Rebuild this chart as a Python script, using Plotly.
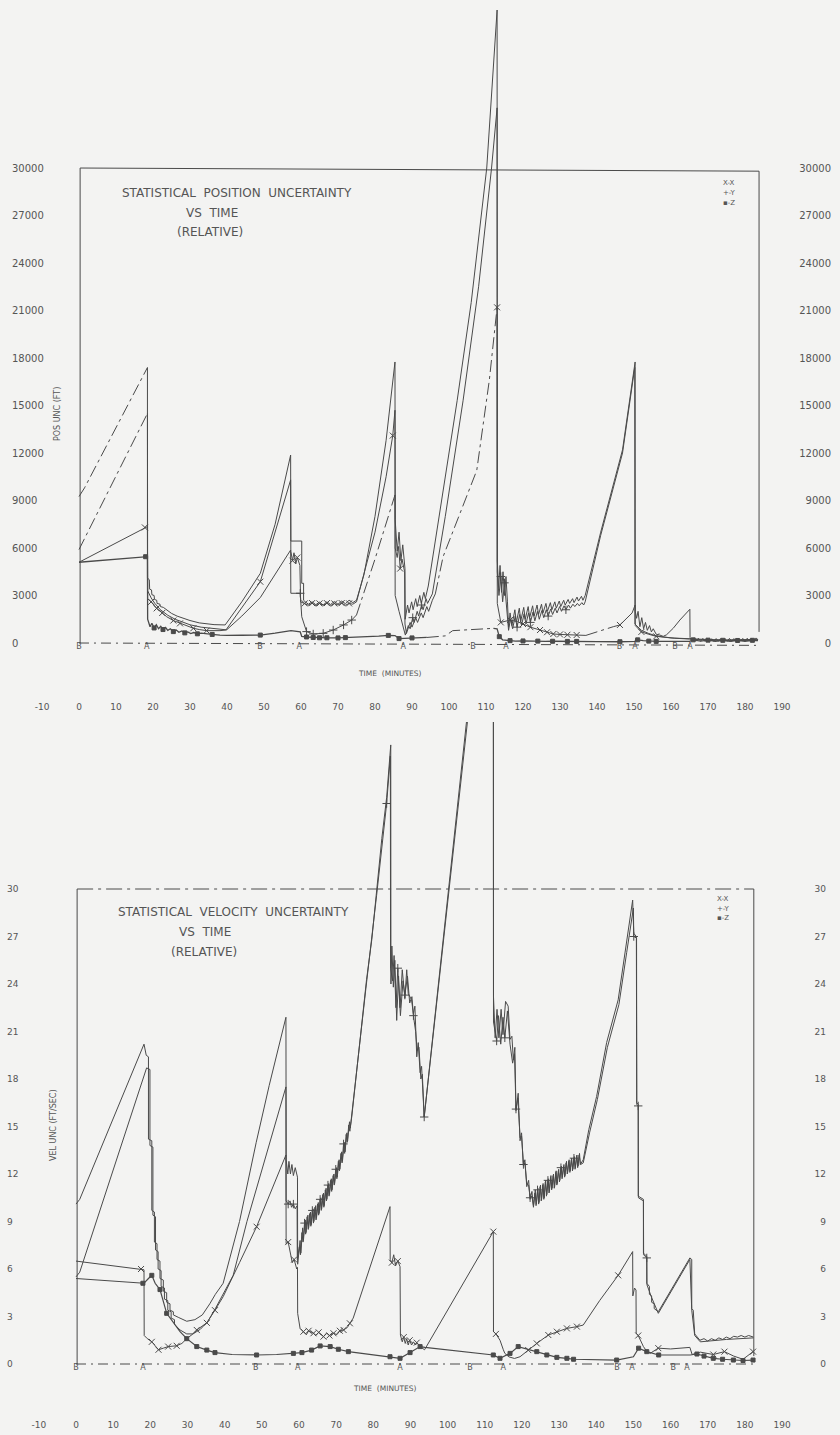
import plotly.graph_objects as go

# ---------------- data ----------------
MINUTE_TICKS = list(range(-10, 200, 10))
POS_TICKS = list(range(0, 30001, 3000))
VEL_TICKS = list(range(0, 31, 3))

POS_EVENT_T = [0, 18.3, 48.9, 59.5, 87.6, 106.5, 115.4, 146.1, 150.3, 161.1, 165.1]
POS_EVENT_LABEL = ["B", "A", "B", "A", "A", "B", "A", "B", "A", "B", "A"]
VEL_EVENT_T = [0, 18.0, 48.4, 59.7, 87.2, 106.0, 115.0, 145.6, 149.6, 160.7, 164.4]
VEL_EVENT_LABEL = ["B", "A", "B", "A", "A", "B", "A", "B", "A", "B", "A"]

# position uncertainty (ft) -- (minute, value)
POS_P_DASH = [(0.0, 9250), (0.6, 9450), (1.5, 9800), (18.5, 17400)]
POS_P = [
    (18.5, 17400), (18.5, 4100), (19.0, 4000), (19.1, 3400), (19.6, 3350), (19.7, 3050), (20.3, 3000),
    (20.4, 2750), (21.0, 2700), (21.1, 2500), (21.9, 2450), (22.0, 2300), (22.8, 2250), (24.0, 2050),
    (25.0, 1870), (26.5, 1700), (28.2, 1560), (30.0, 1420), (32.5, 1270), (34.5, 1200), (36.5, 1160),
    (39.5, 1140), (44.0, 2600), (49.0, 4400), (53.0, 7500), (57.2, 11870),
    (57.25, 6440), (60.2, 6440), (60.2, 3770), (60.7, 3770), (60.7, 2700), (61.1, 2610), (62, 2450),
    (63, 2600), (64, 2420), (65, 2580), (66, 2400), (67, 2600), (68, 2430), (69, 2620), (70, 2450),
    (71, 2650), (72, 2480), (73, 2700), (74, 2550), (75, 2700), (77, 4300), (80, 8000), (83, 12800),
    (85.4, 17750),
    (85.45, 7800), (86.0, 5800), (86.5, 7000), (87.0, 5200), (87.5, 6200), (88.1, 4700), (88.15, 1500),
    (88.8, 2400), (89.2, 1900), (89.9, 2600), (90.3, 2100), (91.0, 2800), (91.4, 2300), (92.1, 3000),
    (92.5, 2500), (93.2, 3200), (93.6, 2800), (94.4, 3600), (98.0, 9000), (102.2, 15300), (106.0, 21500),
    (110.2, 30000), (113.0, 39980),
    (113.05, 5200), (113.4, 3500), (113.8, 4900), (114.2, 3200), (114.6, 4500), (115.0, 3000),
    (115.4, 4200), (115.8, 2600), (116.1, 1000),
    (116.5, 1900), (117.0, 1100), (117.8, 2100), (118.2, 1300), (119.0, 2200), (119.4, 1400), (120.2, 2250),
    (120.6, 1500), (121.4, 2300), (121.8, 1600), (122.6, 2350), (123.0, 1700), (123.8, 2400), (124.2, 1800),
    (125.0, 2450), (125.4, 1900), (126.2, 2500), (126.6, 2000), (127.4, 2550), (127.8, 2100), (128.6, 2600),
    (129.0, 2200), (129.8, 2650), (130.2, 2300), (131.0, 2700), (131.4, 2400), (132.2, 2750), (132.6, 2500),
    (133.4, 2800), (133.8, 2550), (134.6, 2900), (135.0, 2650), (135.8, 2950), (136.2, 2700), (136.8, 3000),
    (141.0, 7000), (146.9, 12200), (150.3, 17750),
    (150.35, 2000), (150.7, 1560), (151.1, 2000), (151.6, 1030), (152.1, 1600), (152.6, 900), (153.1, 1300),
    (153.6, 800), (154.2, 1100), (154.7, 700), (155.2, 900), (156.0, 550), (157.0, 500), (157.9, 420),
    (158.8, 520), (160.6, 930), (162.4, 1450), (164.2, 1870), (165.1, 2130),
    (165.15, 350), (165.6, 150), (166.2, 320), (166.8, 120), (167.4, 300), (168.0, 110), (168.6, 290),
    (169.2, 100), (169.8, 280), (170.4, 110), (171.0, 270), (171.6, 100), (172.2, 280), (172.8, 110),
    (173.4, 270), (174.0, 100), (174.6, 280), (175.2, 110), (175.8, 290), (176.4, 100), (177.0, 280),
    (177.6, 110), (178.2, 300), (178.8, 120), (179.4, 290), (180.0, 110), (180.6, 300), (181.2, 120),
    (181.8, 310), (182.4, 130), (183.0, 320), (183.5, 200),
]

POS_Q_DASH = [(0.0, 5900), (18.5, 14500)]
POS_Q = [
    (18.5, 14500), (18.55, 3300), (19.5, 2850), (20.5, 2500), (22.0, 2100), (24.0, 1750), (26.0, 1500),
    (28.0, 1300), (30.0, 1150), (33.0, 1000), (36.0, 930), (39.9, 830), (44.0, 1700), (49.0, 2870),
    (57.2, 5870), (57.25, 3140), (59.8, 3140), (60.2, 1660), (61.5, 720), (63.3, 570), (66.0, 610),
    (68.7, 820), (71.5, 1140), (73.7, 1450), (75.0, 1770),
]
POS_Q_DASH2 = [(75.0, 1770), (80.0, 5300), (85.4, 9350)]
POS_Q2 = [
    (85.4, 9350), (85.45, 3000), (86.5, 2000), (87.5, 1000), (88.2, 500), (89.0, 1100), (89.5, 900),
    (90.2, 1600), (90.6, 1300), (91.4, 2000), (91.8, 1700), (92.6, 2400), (93.0, 2100), (93.8, 2800),
    (94.2, 2500), (95.5, 3100), (99.0, 8000), (103.8, 15300), (108.0, 22500), (111.5, 30000), (113.0, 33800),
    (113.05, 4500), (113.5, 3000), (114.0, 4200), (114.5, 2600), (115.0, 3800), (115.5, 2300), (116.1, 800),
    (116.6, 1500), (117.2, 900), (117.9, 1700), (118.4, 1000), (119.1, 1800), (119.6, 1100), (120.3, 1850),
    (120.8, 1200), (121.5, 1900), (122.0, 1300), (122.7, 1950), (123.2, 1400), (123.9, 2000), (124.4, 1500),
    (125.1, 2050), (125.6, 1600), (126.3, 2100), (126.8, 1700), (127.5, 2150), (128.0, 1800), (128.7, 2200),
    (129.2, 1900), (129.9, 2300), (130.4, 2000), (131.1, 2350), (131.6, 2100), (132.3, 2400), (132.8, 2200),
    (133.5, 2450), (134.0, 2300), (134.7, 2500), (135.2, 2350), (135.9, 2550), (136.4, 2400), (136.8, 2600),
    (141.0, 6800), (146.9, 12000), (150.2, 17400), (150.25, 1200), (152.0, 800), (154.0, 600), (156.0, 450),
    (158.0, 380), (161.0, 300), (165.0, 250), (170.0, 180), (176.0, 150), (183.5, 170),
]

POS_X = [
    (0.0, 5100), (17.8, 7300), (18.5, 7350), (18.55, 2800), (19.5, 2600), (21.0, 2190), (22.5, 1900),
    (23.7, 1660), (25.5, 1420), (27.3, 1240), (29.0, 1080), (30.9, 930), (32.5, 850), (34.5, 780),
    (38.1, 780), (39.7, 820), (49.0, 3870), (57.2, 10300), (57.25, 5800), (57.7, 5200), (58.1, 5700),
    (58.6, 5000), (59.0, 5400), (59.7, 4900), (59.9, 2600), (61.0, 2500), (62, 2380), (63, 2520),
    (64, 2350), (65, 2500), (66, 2380), (67, 2520), (68, 2350), (69, 2500), (70, 2400), (71, 2520),
    (72, 2380), (73, 2500), (74, 2450), (75, 2600), (80, 7000), (83, 10500), (84.8, 13100), (85.4, 14700),
    (85.45, 6000), (86.0, 5400), (86.4, 6100), (86.8, 4700), (87.3, 5300), (88.0, 4500), (88.1, 1200),
    (88.5, 600), (89.5, 1300), (90.0, 1000), (91.0, 1600), (91.5, 1300), (92.5, 1900), (93.0, 1600),
    (94.0, 2300), (94.5, 2000), (95.5, 2700), (96.3, 3100),
]
POS_X_DASH = [(96.3, 3100), (98.4, 5450), (107.5, 10900), (110.9, 16600), (113.0, 21200)]
POS_X2 = [
    (113.0, 21200), (113.05, 2500), (114.0, 1300), (116.5, 1450), (118.5, 1350), (120.0, 1200),
    (122.0, 1000), (124.6, 820), (126.5, 680), (128.2, 570), (130.0, 540), (132.0, 520), (134.5, 505),
    (137.0, 480),
]
POS_X_DASH2 = [(137.0, 480), (144.4, 1030)]
POS_X3 = [
    (144.4, 1030), (146.2, 1140), (149.5, 1900), (150.3, 2400), (150.35, 1100), (152.0, 700), (154.0, 550),
    (156.0, 420), (160.0, 320), (165.0, 260), (170.0, 220), (175.0, 200), (183.5, 230),
]

POS_Z = [
    (0.0, 5100), (18.0, 5450), (18.5, 5450), (18.55, 1500), (19.2, 1030), (19.7, 1250), (20.3, 950),
    (20.9, 1150), (21.5, 900), (22.1, 1050), (22.7, 850), (23.4, 980), (24.0, 800), (24.7, 900),
    (25.5, 720), (26.3, 820), (27.0, 680), (27.8, 760), (28.6, 640), (29.4, 700), (30.2, 600), (31.0, 660),
    (32.0, 580), (33.0, 620), (34.5, 560), (36.0, 540), (38.1, 500), (40.0, 480), (44.0, 490), (49.0, 500),
    (53.0, 620), (57.3, 780), (59.8, 700), (60.2, 420), (61.5, 380), (63.3, 350), (65.0, 330), (67.0, 330),
    (70.0, 320), (72.0, 340), (75.0, 330), (78.0, 380), (81.0, 430), (83.6, 480), (85.4, 470), (86.5, 280),
    (88.0, 300), (90.0, 320), (92.0, 350), (94.0, 350),
]
POS_Z_DASH = [(94.0, 350), (99.0, 450), (101.0, 780), (108.0, 850), (112.0, 926)]
POS_Z2 = [
    (112.0, 926), (113.0, 900), (113.6, 400), (114.5, 200), (116.5, 150), (118.0, 120), (120.0, 130),
    (122.0, 110), (124.0, 120), (126.0, 100), (128.0, 110), (130.0, 100), (132.0, 100), (134.5, 100),
    (140.0, 90), (146.2, 80), (150.3, 100), (150.5, 250), (151.0, 200), (152.5, 150), (154.0, 120),
    (156.0, 100), (165.0, 100), (166.0, 200), (168.0, 120), (170.0, 180), (172.0, 110), (174.0, 170),
    (176.0, 110), (178.0, 160), (180.0, 110), (182.0, 170), (183.5, 150),
]

POS_X_MARKS = [
    (17.8, 7300), (19.5, 2600), (21.0, 2190), (22.5, 1900), (25.5, 1420), (27.3, 1240), (30.9, 930),
    (34.5, 780), (49.0, 3870), (57.7, 5200), (59.0, 5400), (61.0, 2500), (63, 2520), (65, 2500),
    (67, 2520), (69, 2500), (71, 2520), (73, 2500), (84.8, 13100), (86.8, 4700), (113.0, 21200),
    (114.0, 1300), (116.5, 1450), (120.0, 1200), (122.0, 1000), (124.6, 820), (126.5, 680), (128.2, 570),
    (130.0, 540), (132.0, 520), (134.5, 505), (146.2, 1140), (152.0, 700), (156.0, 420),
]
POS_Q_MARKS = [
    (59.8, 3140), (61.5, 720), (63.3, 570), (66.0, 610), (68.7, 820), (71.5, 1140), (73.7, 1450),
    (90.2, 1600), (92.6, 2400), (114.0, 4200), (115.0, 3800), (118.4, 1000), (122.0, 1300),
    (126.8, 1700), (131.6, 2100),
]
POS_Z_MARKS = [
    (18.0, 5450), (20.3, 950), (22.7, 850), (25.5, 720), (28.6, 640), (32.0, 580), (36.0, 540), (49.0, 500),
    (61.5, 380), (63.3, 350), (65.0, 330), (67.0, 330), (70.0, 320), (72.0, 340), (83.6, 480), (86.5, 280),
    (90.0, 320), (113.6, 400), (116.5, 150), (120.0, 130), (124.0, 120), (128.0, 110), (132.0, 100),
    (134.5, 100), (146.2, 80), (151.0, 200), (154.0, 120), (156.0, 100), (166.0, 200), (170.0, 180),
    (174.0, 170), (178.0, 160), (182.0, 170),
]

# velocity uncertainty (ft/sec) -- (minute, value)
VEL_P = [
    (0.0, 10.1), (1.0, 10.4), (18.3, 20.2), (18.9, 19.5), (19.5, 19.4), (19.5, 14.2), (20.4, 14.1),
    (20.4, 9.7), (21.1, 9.6), (21.1, 7.7), (21.8, 7.6), (21.8, 6.6), (22.6, 6.5), (22.6, 5.4), (23.5, 5.3),
    (23.5, 4.6), (24.4, 4.5), (24.4, 3.9), (25.3, 3.8), (25.3, 3.4), (26.2, 3.3), (26.2, 3.1), (27.5, 2.95),
    (29.8, 2.7), (32.0, 2.8), (34.0, 3.1), (36.0, 3.8), (37.5, 4.4), (39.6, 5.1), (44.0, 9.0), (48.5, 14.0),
    (52.0, 17.6), (56.5, 21.9),
    (56.55, 12.9), (57.0, 12.0), (57.3, 12.8), (57.7, 12.0), (58.1, 12.6), (58.5, 11.9), (59.0, 12.4),
    (59.6, 11.8), (59.65, 6.3), (60.3, 7.8), (60.5, 7.0), (61.0, 8.6), (61.2, 7.8), (61.7, 9.1), (61.9, 8.3),
    (62.4, 9.4), (62.6, 8.6), (63.1, 9.6), (63.3, 8.8), (63.8, 9.8), (64.0, 9.0), (64.5, 10.0), (64.7, 9.2),
    (65.2, 10.2), (65.4, 9.5), (65.9, 10.5), (66.1, 9.8), (66.6, 10.8), (66.8, 10.0), (67.3, 11.1),
    (67.5, 10.4), (68.0, 11.4), (68.2, 10.7), (68.7, 11.7), (68.9, 11.0), (69.4, 12.0), (69.6, 11.4),
    (70.1, 12.4), (70.3, 11.8), (70.8, 12.9), (71.0, 12.3), (71.5, 13.4), (71.7, 12.8), (72.2, 14.0),
    (72.4, 13.4), (72.9, 14.6), (73.1, 14.1), (73.6, 15.3), (73.8, 14.9), (74.2, 15.6), (75.2, 17.8),
    (76.4, 20.5), (78.2, 24.3), (79.6, 26.8), (80.9, 30.1), (82.3, 33.2), (83.6, 35.8), (84.7, 39.1),
    (84.75, 24.0), (85.0, 26.4), (85.4, 23.8), (85.8, 25.5), (86.3, 21.7), (86.8, 24.5), (87.2, 22.5),
    (87.8, 24.9), (88.5, 23.1), (89.0, 24.9), (89.4, 23.4), (90.3, 23.0), (90.8, 22.1), (91.2, 22.6),
    (91.7, 19.4), (92.1, 20.3), (92.6, 18.4), (93.0, 18.8), (93.7, 15.6), (98.8, 26.8), (105.1, 40.6),
    (112.3, 56.0),
    (112.35, 23.2), (112.8, 20.6), (113.3, 22.4), (113.8, 20.6), (114.4, 22.4), (114.9, 20.8), (115.6, 22.9),
    (116.3, 22.6), (116.8, 20.5), (117.3, 20.7), (117.7, 19.2), (118.1, 20.0), (118.4, 16.0), (119.0, 17.1),
    (119.5, 14.1), (119.9, 14.6), (120.4, 12.5), (120.8, 12.9), (121.3, 11.2), (121.8, 11.6), (122.2, 10.4),
    (122.7, 10.9), (123.1, 9.9), (123.6, 11.0), (123.8, 10.0), (124.3, 11.1), (124.5, 10.1), (125.0, 11.3),
    (125.2, 10.3), (125.7, 11.4), (125.9, 10.4), (126.4, 11.6), (126.6, 10.6), (127.1, 11.7), (127.3, 10.8),
    (127.8, 11.9), (128.0, 11.0), (128.5, 12.0), (128.7, 11.1), (129.2, 12.2), (129.4, 11.3), (129.9, 12.3),
    (130.1, 11.5), (130.6, 12.5), (130.8, 11.7), (131.3, 12.6), (131.5, 11.8), (132.0, 12.8), (132.2, 12.0),
    (132.7, 12.9), (132.9, 12.1), (133.4, 13.0), (133.6, 12.2), (134.1, 13.1), (134.3, 12.3), (134.8, 13.2),
    (135.0, 12.4), (135.5, 13.3), (135.7, 12.6), (136.5, 12.9), (138.0, 14.8), (140.1, 16.9), (142.8, 20.3),
    (145.9, 23.0), (148.0, 26.3), (149.8, 29.3),
    (150.1, 27.2), (150.8, 27.0), (150.9, 16.5), (151.3, 16.4), (151.3, 10.6), (152.7, 10.4), (152.7, 7.0),
    (153.6, 6.8), (153.6, 5.1), (154.3, 4.9), (154.3, 4.4), (154.9, 4.3), (154.9, 3.9), (155.6, 3.8),
    (155.6, 3.5), (156.7, 3.3), (165.2, 6.7), (165.7, 6.6), (165.7, 3.5), (166.1, 3.4), (166.5, 1.9),
    (167.9, 1.5), (169.0, 1.6), (170.0, 1.45), (171.0, 1.6), (172.0, 1.5), (173.0, 1.65), (174.0, 1.55),
    (175.0, 1.7), (176.0, 1.6), (177.0, 1.75), (178.0, 1.7), (179.0, 1.8), (180.0, 1.7), (181.0, 1.8),
    (182.3, 1.7),
]

VEL_Q = [
    (0.0, 5.5), (1.0, 5.8), (19.0, 18.7), (19.9, 18.6), (19.9, 13.8), (20.7, 13.7), (20.7, 9.4),
    (21.4, 9.3), (21.4, 7.2), (22.1, 7.1), (22.1, 6.0), (22.9, 5.9), (22.9, 4.9), (23.8, 4.8), (23.8, 4.1),
    (24.7, 4.0), (24.7, 3.4), (25.6, 3.3), (25.6, 2.9), (26.5, 2.8), (26.5, 2.5), (28.0, 2.15), (29.8, 1.9),
    (31.5, 1.9), (33.5, 2.2), (35.5, 2.7), (37.5, 3.5), (40.0, 4.6), (42.3, 5.6), (46.0, 9.0), (50.0, 12.3),
    (56.5, 17.5),
    (56.55, 10.3), (57.1, 10.1), (57.6, 10.3), (58.0, 9.9), (58.5, 10.1), (59.0, 9.8), (59.5, 10.0),
    (59.55, 6.6), (60.1, 7.4), (60.4, 6.9), (60.8, 8.3), (61.1, 7.7), (61.5, 8.9), (61.8, 8.2), (62.2, 9.3),
    (62.5, 8.5), (62.9, 9.5), (63.2, 8.7), (63.6, 9.7), (63.9, 8.9), (64.3, 9.9), (64.6, 9.1), (65.0, 10.1),
    (65.3, 9.4), (65.7, 10.4), (66.0, 9.7), (66.4, 10.7), (66.7, 9.9), (67.1, 11.0), (67.4, 10.3),
    (67.8, 11.3), (68.1, 10.6), (68.5, 11.6), (68.8, 10.9), (69.2, 11.9), (69.5, 11.3), (69.9, 12.3),
    (70.2, 11.7), (70.6, 12.8), (70.9, 12.2), (71.3, 13.3), (71.6, 12.7), (72.0, 13.9), (72.3, 13.3),
    (72.7, 14.5), (73.0, 14.0), (73.4, 15.1), (73.7, 14.7), (74.0, 15.3), (76.0, 19.6), (78.0, 23.7),
    (80.9, 29.6), (83.6, 35.4), (84.6, 38.4),
    (84.65, 25.0), (85.2, 24.2), (85.6, 25.8), (86.1, 22.5), (86.6, 25.0), (87.3, 22.0), (88.0, 24.2),
    (88.5, 23.3), (89.2, 24.5), (89.8, 22.8), (90.4, 23.2), (90.8, 22.0), (91.4, 21.0), (91.8, 19.8),
    (92.3, 20.0), (92.8, 18.0), (93.2, 18.3), (93.7, 15.6), (98.8, 26.6), (105.1, 40.4), (112.3, 55.5),
    (112.35, 21.6), (113.2, 20.4), (113.7, 22.0), (114.3, 20.2), (114.9, 21.9), (115.4, 20.6), (116.1, 22.3),
    (116.8, 20.2), (117.5, 19.0), (118.0, 19.6), (118.4, 16.1), (118.9, 16.8), (119.5, 14.3), (119.9, 14.4),
    (120.4, 12.6), (120.8, 12.7), (121.3, 11.4), (121.8, 11.3), (122.2, 10.5), (122.7, 10.6), (123.1, 10.0),
    (123.5, 10.8), (123.9, 10.1), (124.2, 11.0), (124.6, 10.2), (124.9, 11.2), (125.3, 10.4), (125.6, 11.3),
    (126.0, 10.5), (126.3, 11.5), (126.7, 10.7), (127.0, 11.6), (127.4, 10.9), (127.7, 11.8), (128.1, 11.1),
    (128.4, 11.9), (128.8, 11.2), (129.1, 12.1), (129.5, 11.4), (129.8, 12.2), (130.2, 11.6), (130.5, 12.4),
    (130.9, 11.8), (131.2, 12.5), (131.6, 11.9), (131.9, 12.7), (132.3, 12.1), (132.6, 12.8), (133.0, 12.2),
    (133.3, 12.9), (133.7, 12.3), (134.0, 13.0), (134.4, 12.4), (134.7, 13.1), (135.1, 12.5), (135.4, 13.2),
    (135.8, 12.6), (136.5, 12.7), (138.2, 14.6), (140.3, 16.7), (143.0, 20.0), (146.1, 22.7), (148.2, 26.0),
    (150.0, 28.8),
    (150.1, 27.0), (150.85, 26.9), (150.9, 16.4), (151.3, 16.3), (151.35, 10.5), (152.7, 10.3),
    (152.75, 6.9), (153.6, 6.7), (153.65, 5.0), (154.9, 4.2), (156.7, 3.2), (165.2, 6.6), (165.7, 3.4),
    (166.5, 1.8), (168.0, 1.4), (175.0, 1.55), (182.3, 1.65),
]

VEL_X = [
    (0.0, 6.5), (17.5, 6.0), (18.3, 5.95), (18.35, 1.8), (19.2, 1.6), (20.4, 1.4), (22.2, 0.9), (23.5, 1.0),
    (24.8, 1.1), (27.1, 1.15), (28.5, 1.3), (29.8, 1.6), (31.2, 1.85), (32.5, 2.15), (35.2, 2.6),
    (37.4, 3.4), (39.6, 4.25), (44.0, 6.4), (48.6, 8.67), (56.5, 13.2),
    (56.55, 7.6), (57.1, 7.7), (57.6, 7.0), (58.2, 6.4), (58.7, 6.6), (59.4, 6.0), (59.6, 6.1),
    (59.65, 3.2), (60.3, 2.25), (61.2, 2.04), (62.0, 1.85), (62.6, 2.1), (63.9, 1.94), (64.6, 1.8),
    (65.3, 2.0), (66.6, 1.73), (67.4, 1.95), (68.2, 1.8), (69.3, 1.94), (70.2, 1.85), (71.0, 2.1),
    (72.0, 2.15), (73.0, 2.3), (73.7, 2.57), (74.6, 2.9), (84.5, 9.94),
    (84.55, 6.6), (85.0, 6.4), (85.5, 6.9), (86.0, 6.2), (86.6, 6.5), (87.2, 6.15), (87.3, 1.83),
    (87.8, 1.4), (88.2, 1.7), (88.6, 1.3), (89.0, 1.6), (89.4, 1.2), (89.8, 1.5), (90.3, 1.2), (90.8, 1.4),
    (91.4, 1.2), (91.7, 1.35), (92.6, 1.1), (93.8, 0.9), (112.3, 8.36),
    (112.35, 2.04), (113.0, 1.9), (114.1, 1.5), (115.0, 0.9), (115.4, 0.67), (116.5, 0.45), (118.0, 0.35),
    (119.5, 0.46), (121.7, 0.88), (124.0, 1.3), (127.1, 1.83), (129.4, 2.04), (132.1, 2.25), (134.8, 2.36),
    (136.5, 2.46), (140.9, 4.0), (145.9, 5.6), (149.8, 7.1), (149.85, 4.3), (150.3, 4.8), (150.7, 4.67),
    (150.75, 1.94), (151.3, 1.8), (152.7, 1.1), (153.6, 0.8), (154.5, 0.67), (156.7, 1.0), (160.0, 0.95),
    (163.0, 0.98), (165.2, 1.05), (165.8, 0.6), (168.0, 0.75), (171.5, 0.6), (174.5, 0.78), (177.0, 0.5),
    (179.5, 0.3), (182.2, 0.78),
]

VEL_Z = [
    (0.0, 5.4), (18.0, 5.1), (18.3, 5.1), (19.5, 5.4), (20.4, 5.6), (21.3, 5.1), (22.6, 4.7), (24.4, 3.2),
    (26.2, 2.6), (28.0, 2.04), (29.8, 1.6), (32.5, 1.1), (35.2, 0.88), (37.4, 0.72), (42.0, 0.6),
    (48.6, 0.57), (54.0, 0.6), (58.5, 0.67), (60.8, 0.72), (63.4, 0.88), (65.7, 1.14), (68.4, 1.1),
    (70.6, 0.93), (73.3, 0.78), (84.5, 0.46), (87.2, 0.36), (89.9, 0.72), (92.6, 1.1), (93.9, 1.05),
    (112.3, 0.57), (114.1, 0.36), (116.8, 0.67), (119.0, 1.1), (121.7, 0.93), (124.0, 0.78), (126.7, 0.57),
    (129.4, 0.42), (132.1, 0.36), (133.9, 0.3), (145.5, 0.25), (150.0, 0.46), (151.4, 1.0), (153.6, 0.78),
    (156.8, 0.57), (165.3, 0.57), (167.1, 0.63), (169.0, 0.5), (171.5, 0.36), (174.0, 0.3), (176.9, 0.25),
    (179.5, 0.22), (182.2, 0.25),
]

VEL_X_MARKS = [
    (17.5, 6.0), (20.4, 1.4), (22.2, 0.9), (24.8, 1.1), (27.1, 1.15), (32.5, 2.15), (35.2, 2.6), (37.4, 3.4),
    (48.6, 8.67), (57.1, 7.7), (58.7, 6.6), (61.2, 2.04), (62.6, 2.1), (63.9, 1.94), (65.3, 2.0),
    (66.6, 1.73), (68.2, 1.8), (69.3, 1.94), (71.0, 2.1), (72.0, 2.15), (73.7, 2.57), (85.0, 6.4),
    (86.6, 6.5), (88.2, 1.7), (89.8, 1.5), (91.7, 1.35), (112.3, 8.36), (113.0, 1.9), (121.7, 0.88),
    (124.0, 1.3), (127.1, 1.83), (129.4, 2.04), (132.1, 2.25), (134.8, 2.36), (145.9, 5.6), (151.3, 1.8),
    (156.7, 1.0), (171.5, 0.6), (174.5, 0.78), (182.2, 0.78),
]
VEL_Q_MARKS = [
    (57.1, 10.1), (58.5, 10.1), (61.5, 8.9), (63.6, 9.7), (65.7, 10.4), (67.8, 11.3), (69.9, 12.3),
    (72.0, 13.9), (83.6, 35.4), (86.6, 25.0), (88.5, 23.3), (90.8, 22.0), (93.7, 15.6), (113.2, 20.4),
    (115.4, 20.6), (118.4, 16.1), (120.4, 12.6), (122.2, 10.5), (124.2, 11.0), (127.0, 11.6), (130.5, 12.4),
    (134.0, 13.0), (150.1, 27.0), (151.3, 16.3), (153.6, 6.7),
]
VEL_Z_MARKS = [
    (18.0, 5.1), (20.4, 5.6), (22.6, 4.7), (24.4, 3.2), (29.8, 1.6), (32.5, 1.1), (35.2, 0.88), (37.4, 0.72),
    (48.6, 0.57), (58.5, 0.67), (60.8, 0.72), (63.4, 0.88), (65.7, 1.14), (68.4, 1.1), (70.6, 0.93),
    (73.3, 0.78), (84.5, 0.46), (87.2, 0.36), (89.9, 0.72), (92.6, 1.1), (112.3, 0.57), (114.1, 0.36),
    (116.8, 0.67), (119.0, 1.1), (124.0, 0.78), (126.7, 0.57), (129.4, 0.42), (132.1, 0.36), (133.9, 0.3),
    (145.5, 0.25), (151.4, 1.0), (153.6, 0.78), (156.8, 0.57), (167.1, 0.63), (169.0, 0.5), (171.5, 0.36),
    (174.0, 0.3), (176.9, 0.25), (179.5, 0.22), (182.2, 0.25),
]

# ---------------- styling ----------------
W, H = 840, 1435
INK = "#4a4a4a"
TEXT = "#555555"
BG = "#f3f3f2"
FONT = "DejaVu Sans"
DASH = "12px,4px,3px,4px"

fig = go.Figure()


def unzip(points):
    return [p[0] for p in points], [p[1] for p in points]


def add_line(points, xa, ya, dash="solid", width=1.0):
    x, y = unzip(points)
    fig.add_trace(go.Scatter(x=x, y=y, xaxis=xa, yaxis=ya, mode="lines",
                             line=dict(color=INK, width=width, dash=dash),
                             hoverinfo="skip", showlegend=False))


def add_marks(points, xa, ya, symbol, size):
    x, y = unzip(points)
    fig.add_trace(go.Scatter(x=x, y=y, xaxis=xa, yaxis=ya, mode="markers",
                             marker=dict(symbol=symbol, size=size, color=INK,
                                         line=dict(color=INK, width=1)),
                             hoverinfo="skip", showlegend=False))


def add_events(times, labels, xa, ya):
    fig.add_trace(go.Scatter(x=times, y=[0] * len(times), xaxis=xa, yaxis=ya, mode="text",
                             text=labels, textposition="bottom center",
                             textfont=dict(family=FONT, size=8, color=TEXT),
                             hoverinfo="skip", showlegend=False))


# position chart
add_line(POS_P_DASH, "x", "y", DASH)
add_line(POS_P, "x", "y")
add_line(POS_Q_DASH, "x", "y", DASH)
add_line(POS_Q, "x", "y")
add_line(POS_Q_DASH2, "x", "y", DASH)
add_line(POS_Q2, "x", "y")
add_line(POS_X, "x", "y")
add_line(POS_X_DASH, "x", "y", DASH)
add_line(POS_X2, "x", "y")
add_line(POS_X_DASH2, "x", "y", DASH)
add_line(POS_X3, "x", "y")
add_line(POS_Z, "x", "y", width=1.3)
add_line(POS_Z_DASH, "x", "y", DASH)
add_line(POS_Z2, "x", "y", width=1.3)
add_marks(POS_X_MARKS, "x", "y", "x-thin", 6)
add_marks(POS_Q_MARKS, "x", "y", "cross-thin", 6)
add_marks(POS_Z_MARKS, "x", "y", "square", 4)
add_events(POS_EVENT_T, POS_EVENT_LABEL, "x", "y")

# velocity chart
add_line(VEL_P, "x2", "y2")
add_line(VEL_Q, "x2", "y2")
add_line(VEL_X, "x2", "y2")
add_line(VEL_Z, "x2", "y2", width=1.2)
add_marks(VEL_X_MARKS, "x2", "y2", "x-thin", 6)
add_marks(VEL_Q_MARKS, "x2", "y2", "cross-thin", 6)
add_marks(VEL_Z_MARKS, "x2", "y2", "square", 4)
add_events(VEL_EVENT_T, VEL_EVENT_LABEL, "x2", "y2")


# ---- axes: pixel geometry of each panel ----
def px_x(p):
    return p / W


def px_y(p):
    return 1 - p / H


# top panel: minute 0 at x=79 px, 3.7 px/min; 0 ft at y=643 px, 15.833 px per 1000 ft
T_L, T_R, T_T, T_B = 9, 834, 5, 700
t_range = [(T_L - 79) / 3.7, (T_R - 79) / 3.7]
p_range = [(643 - T_B) * 63.16, (643 - T_T) * 63.16]
# bottom panel: minute 0 at x=76 px, 3.716 px/min; 0 ft/s at y=1364 px, 15.833 px per ft/s
B_L, B_R, B_T, B_B = 4, 829, 722, 1418
t2_range = [(B_L - 76) / 3.716, (B_R - 76) / 3.716]
v_range = [(1364 - B_B) / 15.833, (1364 - B_T) / 15.833]

minute_text = [str(t) for t in MINUTE_TICKS]
pos_text = [str(v) for v in POS_TICKS]
vel_text = [str(v) for v in VEL_TICKS]

common_x = dict(showgrid=False, zeroline=False, showline=False, ticks="", tickvals=MINUTE_TICKS,
                ticktext=minute_text, tickfont=dict(family=FONT, size=9, color=TEXT), fixedrange=True)
common_y = dict(showgrid=False, zeroline=False, showline=False, ticks="", ticklabelposition="inside",
                fixedrange=True)
pos_font = dict(family=FONT, size=10, color=TEXT)
vel_font = dict(family=FONT, size=9, color=TEXT)

fig.update_layout(
    width=W, height=H, margin=dict(l=0, r=0, t=0, b=0),
    paper_bgcolor=BG, plot_bgcolor=BG, showlegend=False,
    # plotting axis of the top panel; its minute scale is labelled by a thin strip subplot
    xaxis=dict(domain=[px_x(T_L), px_x(T_R)], range=t_range, anchor="y",
               **{**common_x, "showticklabels": False}),
    yaxis=dict(domain=[px_y(T_B), px_y(T_T)], range=p_range, anchor="x", tickvals=POS_TICKS,
               ticktext=pos_text, tickfont=pos_font, side="left", **common_y),
    yaxis3=dict(range=p_range, overlaying="y", anchor="x", side="right", tickvals=POS_TICKS,
                ticktext=pos_text, tickfont=pos_font, **common_y),
    xaxis3=dict(domain=[px_x(T_L), px_x(T_R)], range=t_range, anchor="y5", **common_x),
    yaxis5=dict(domain=[px_y(T_B), px_y(T_B - 1)], range=[0, 1], anchor="x3", visible=False,
                fixedrange=True),
    xaxis2=dict(domain=[px_x(B_L), px_x(B_R)], range=t2_range, anchor="y2", **common_x),
    yaxis2=dict(domain=[px_y(B_B), px_y(B_T)], range=v_range, anchor="x2", tickvals=VEL_TICKS,
                ticktext=vel_text, tickfont=vel_font, side="left", **common_y),
    yaxis4=dict(range=v_range, overlaying="y2", anchor="x2", side="right", tickvals=VEL_TICKS,
                ticktext=vel_text, tickfont=vel_font, **common_y),
)

# keep the overlay and strip axes alive
fig.add_trace(go.Scatter(x=[0], y=[0], xaxis="x", yaxis="y3", mode="markers",
                         marker=dict(opacity=0), hoverinfo="skip", showlegend=False))
fig.add_trace(go.Scatter(x=[0], y=[0], xaxis="x2", yaxis="y4", mode="markers",
                         marker=dict(opacity=0), hoverinfo="skip", showlegend=False))
fig.add_trace(go.Scatter(x=[0], y=[0.5], xaxis="x3", yaxis="y5", mode="markers",
                         marker=dict(opacity=0), hoverinfo="skip", showlegend=False))

# ---- frames and zero lines ----
frame = dict(color=INK, width=1)
shapes = [
    dict(type="line", xref="x", yref="y", x0=0.3, x1=0.3, y0=0, y1=30000, line=frame),
    dict(type="line", xref="x", yref="y", x0=0.3, x1=183.8, y0=30000, y1=29800, line=frame),
    dict(type="line", xref="x", yref="y", x0=183.8, x1=183.8, y0=29800, y1=700, line=frame),
    dict(type="line", xref="x", yref="y", x0=0, x1=183.8, y0=0, y1=-150,
         line=dict(color=INK, width=1, dash="10px,5px,2px,5px")),
    dict(type="line", xref="x2", yref="y2", x0=0.3, x1=0.3, y0=0, y1=30, line=frame),
    dict(type="line", xref="x2", yref="y2", x0=0.3, x1=182.4, y0=30, y1=30,
         line=dict(color=INK, width=1, dash="16px,5px,3px,5px")),
    dict(type="line", xref="x2", yref="y2", x0=182.4, x1=182.4, y0=30, y1=0.5, line=frame),
    dict(type="line", xref="x2", yref="y2", x0=0, x1=182.4, y0=0, y1=0,
         line=dict(color=INK, width=1, dash="10px,5px,2px,5px")),
]
fig.update_layout(shapes=shapes)

# ---- text ----
NB = "\u00a0"


def note(text, x, y, size, angle=0):
    fig.add_annotation(text=text, xref="paper", yref="paper", x=px_x(x), y=px_y(y),
                       showarrow=False, textangle=angle, xanchor="center", yanchor="middle",
                       font=dict(family=FONT, size=size, color=TEXT))


note(f"STATISTICAL{NB}{NB}POSITION{NB}{NB}UNCERTAINTY", 237, 193, 12)
note(f"VS{NB}{NB}TIME", 212, 213, 12)
note("(RELATIVE)", 210, 232, 12)
note(f"STATISTICAL{NB}{NB}VELOCITY{NB}{NB}UNCERTAINTY", 233, 912, 12)
note(f"VS{NB}{NB}TIME", 205, 932, 12)
note("(RELATIVE)", 204, 952, 12)

note("X-X", 729, 183, 7)
note("+-Y", 729, 193, 7)
note("\u25aa-Z", 729, 203, 7)
note("X-X", 723, 899, 7)
note("+-Y", 723, 909, 7)
note("\u25aa-Z", 723, 918, 7)

note(f"POS{NB}UNC{NB}(FT)", 58, 414, 8, -90)
note(f"VEL{NB}UNC{NB}(FT/SEC)", 53, 1125, 8, -90)
note(f"TIME{NB}{NB}(MINUTES)", 390, 673, 7.5)
note(f"TIME{NB}{NB}(MINUTES)", 385, 1388, 7.5)

fig.write_html("out.html")
